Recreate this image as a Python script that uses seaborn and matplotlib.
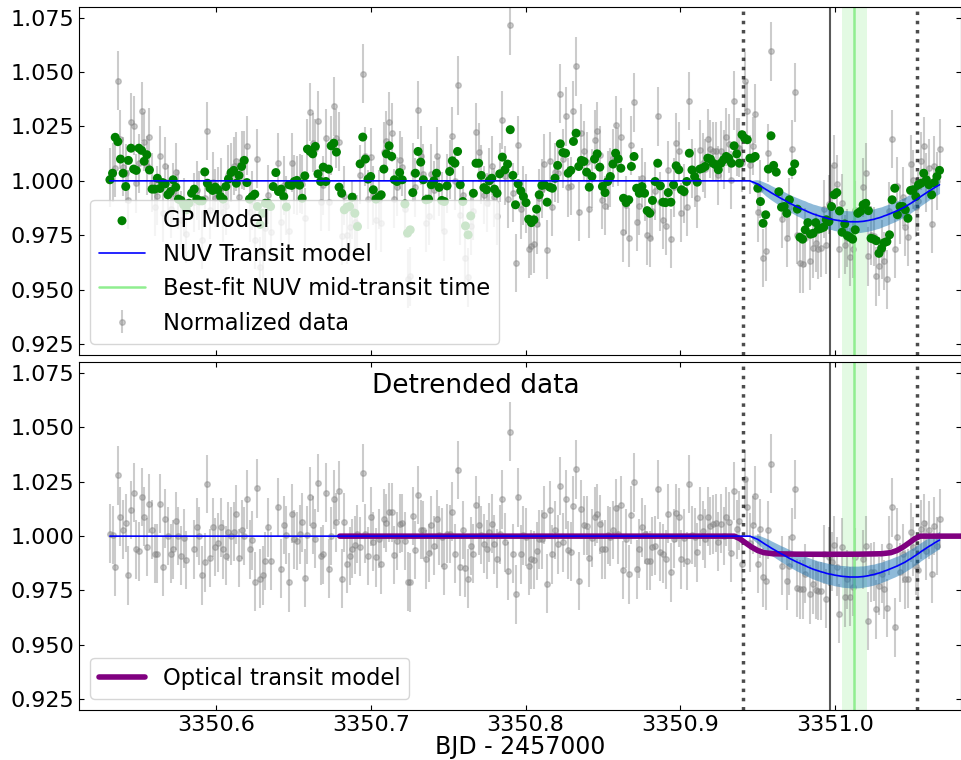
import numpy as np
import matplotlib
matplotlib.use("Agg")
import matplotlib.pyplot as plt
from matplotlib.ticker import MultipleLocator, FormatStrFormatter
import seaborn as sns

# NUV light curve: uniform cadence starting at T_START
T_START = 3350.5315
CADENCE = 0.0017016
FLUX_ERR = 0.0135

# detrended flux (bottom panel), parts per thousand from 1.0 ; None = no exposure
detrended_ppt = [
    1.2, 0.5, -14, 28, 9, 3, 6, -18, 12, 20,
    -6, -7, 18, 9, -5, 15, 3, -8, -8, 15,
    -14, 8, 0, -8, -6, 7, 0, -9, -1, -11,
    None, None, -6, 4, 0, -18, -12, 24, -10, 4,
    -5, -3, 4, -6, -9, 2, 0, 2, 10, -10,
    3, 0,
    17, -6, -2, -21, 22, -19.5, -18, -11.5, 4, -11.5,
    None, None, 13.2, -14.9, 5.1, 0.5, -21.2, 10.4, -1.4, -2.3,
    0.8, 6.4, -19.3, 0.5, 18.1, 5.1, -1.1, 24.5, -9.2, -8.4,
    20, -14.9, 0, 16.9, 6.4, 20.9, -19.6, 6.4, -12.6, -9.2,
    -5.7, -4.1, 1, -4.9, 29.1, 1.2, -9.2, 9, -2.6, -9.8,
    -1.1, -13, 8, 6,
    11, 11, -8.7, -2.3, 5.8, 6, -2.3, -21, -21.3, 9.2,
    -6.4, 19, 3, 2.8, -10.7, -7.7, 5, -4.4, 7.7, 0.4,
    -0.6, -13.6, 1.2, 1, 11.2, -8, 30.4, -14, 2.8, -14.6,
    -19.5, -4.6, -8, 14.3, 5, 0.5, -3.4, -6, 1.7, 5.8,
    -3.8, -10.3, 0.8, 17, -2.8, -16, 48, -8, -26.7, 17.8,
    -8.4, 0.3, -0.4, -13.6, -10.7,
    -11, -6.9, -1.5, -1.5, 9.7, -21.8, 12, -8.4, 2.8, -3.7,
    23, -2.9, 16.9, -6.4, -7.2, 14.1, 30.7, -20.7, 12.4, 5,
    4.8, -10, -0.8, 8.9, 10.4, 5.4, -6, -6, 0.6, -0.3,
    2.8, 13, 0.9, 14.3, -15.6, -1.1, -17.5, 9.7, 24.8, -15.3,
    -5.7, 4, 0.8, -11.3, -11.3, -4.9, -4.4, 21.5, -7.2, -8,
    -10.7, 10.4, -16.7, -1.1, 10.7, 8.6,
    -10.6, -0.8, -11.5, 24, 0.5, -0.5, -7.5, 8.9, 2.5, -1.1,
    8.9, 4.6, 5.4, 6.1, -2.6, 5.8, 0, 8.9, 6.6, -7.7,
    20.7, 3.1, 7.1, -13, 26.2, 13.2, -3, 5.1, 18.6, -12.6,
    3.5, -19, -20.7, 2.8, 33.4, None, None, None, -13.6, None,
    -20.7, -13.6, -0.6, 21.5, -23.8, -24.5, -24.4, -17.2, None, -26.8,
    -22.1, -24.8, -25.2, -25.3, -8.3, -28.7, -9.5, -11.8, -4.1, -14.1,
    -35.6, -5.2, -28.2, -19.8, -27.9, -23.3, -9.8, None, None, -10.6,
    -4.4, -39.1, -16.6, -16.4, -33.7, -23, -17.2, -24.5, -33, -4.4,
    13.2, -42, -0.6, -16.7, -8, -19.8, -19.5, 1.7, -4.9, -13.8,
    -15.6, 3.1, 6.1, -6.7, 2.8, -17.2, 4.6, -4.6, 8.1,
]

# GP model (systematics + transit) at each exposure, ppt from 1.0
gp_ppt = [
    0.5, 3.5, 20, 18, 10, 3.5, -2.6, 9.4, 15, 5.4,
    4.8, 15, 14, 9, 12, 5, -3.8, -3.8, 1.2, -3.5,
    -0.8, -1.4, -6.4, -4.9, 0.5, -2.9, -8.4, -9, -11, -13.3,
    -10.3, -5.7, -3.8, -8.4, -9.2, -9.2, 4.1, -1.1, -3.4, -4.4,
    -2.9, -4.1, -7.2, -8.4, -2.6, 0.8, 3.8, 4.8, -1.1, 2.5,
    6.6, 9.4, -0.8, -8.4, -7.2, -6.1, -11.8, -20, -14.9, -10.3,
    -10.3, -11.8, -2.6, 3.8, -4.9, -3.8, -7.2, -12, -1.8, -2.1,
    -0.3, 0.2, -2, -8, 2.3, 14.6, 13.5, 12.4, 15.8, 3.2,
    -0.3, 6.3, -0.3, 5.4, 16.1, 17.3, 13.2, -2.9, -5.7, -13.3,
    -12.1, -11.8, -7.5, -14.9, -21, 7.8, 20.1, 10, 0.8, 2,
    -4.1, -8.4, -7.5, -6.4, 5.4, 12.4, 16.1, 11.2, 0.5, -0.3,
    3.8, 0.5, -10.6, -24, -22.5, -5.4, 3.5,
    13.5, 8.6, 0.5, -8.7, -8.4, -1.8, 0, 3.5, -3, -9,
    -9.5, -2.3, 4.3, 9.2, 8.1, 13.5, -1.8, -9.5, -20.7, -24.8,
    -16.1, -5.7, 8.1, 8.1, 2.5, -3.1, -4.1, 0, 1.2, -3.8,
    -5.7, 3.2, 10.9, 5.1, 7.7, 23.5, 2.5, -11, -1.4, -4.6,
    -7.2, -10, -17.6, -19.2, -17.9, -13, -6.4, -2.1, -1.8, -9.8,
    -2.9, -3.4, 1.2, 7.1, 17, 13, 12.7, 3.5, 4.8, 18.1,
    21.9, 6.6, 9.4, 8.9, 4, -2.9, 2, 10, 12.4, 6.3,
    -2.6, -5.4, -0.3, 2, 7.7, 12.7, 10.1, 5.8, -8, -10,
    -8.7, 6.6, 11.2, -3.4, -5.7, -2.6, -5.7, -13.7, -14.9, -9,
    -0.3, 8.1, -2.3, -9.8, -10, -5.4, -9.8, -1.8, 6.9, 5.1,
    -4.1, -4.9, -0.3, 12.7, 5, 2, -0.6, 5.4, 5.8, 6.6,
    10.4, 10, 8.1, 7.4, 5.1, 8.1, 9.7, 11.2,
    10.4, 8.1, 16.1, 12.4, 8.1, 21.2, 19.6, 18.9, 10.4, 10.4,
    11.2, -3.4, -9.5, -19.5, -15.6, 5.4, 20.7, 7.1, 4, -5,
    -12.1, -11.8, -14.9, -8.7, 4.3, 7.8, -13, -25.9, -26.8, -22.5,
    -19.2, -24.5, -24.1, -19.2, -22.2, -21.8, -21.3, -17.9, -18.7, -11.8,
    -6.4, -5.4, -13.8, -23.6, -19.8, -25.2, -25.9, -26.8, -22.5, -14.9,
    -14, -11, -10.3, -13.7, -26.4, -26.8, -27.5, -33.3, -31, -28.4,
    -27.9, -24.8, -8.7, -3.4, -15.6, -11.8, -11.8, -13.3, -17.2, -4.4,
    -4.1, -7.2, -1.8, -1.1, 3.5, 0.5, -1.8, -6.4, -0.8, 2,
    4.8,
]

# NUV transit model: flat for the first N_FLAT exposures, then these values (ppt)
N_FLAT = 243
transit_in_ppt = [
    0, -0.5, -1.0, -1.5, -2.3, -3.1, -3.9, -4.6, -5.4, -6.1,
    -6.8, -7.5, -8.2, -8.8, -9.5, -10.2, -10.8, -11.4, -12.0, -12.5,
    -13.1, -13.6, -14.2, -14.7, -15.2, -15.6, -16.0, -16.4, -16.7, -17.1,
    -17.4, -17.6, -17.9, -18.1, -18.3, -18.5, -18.6, -18.7, -18.8, -18.8,
    -18.8, -18.8, -18.7, -18.6, -18.4, -18.2, -17.9, -17.7, -17.3, -17.0,
    -16.6, -16.1, -15.7, -15.2, -14.7, -14.2, -13.7, -13.1, -12.5, -11.9,
    -11.1, -10.4, -9.6, -8.8, -8.0, -7.1, -6.3, -5.5, -4.7, -4.0,
    -3.2, -2.5, -1.8,
]
# half width of the model uncertainty band (ppt), same exposures
band_in_ppt = [
    0, 0.8, 1.5, 2.0, 2.4, 2.7, 3.0, 3.2, 3.3, 3.4,
    3.5, 3.6, 3.7, 3.8, 3.9, 4.0, 4.0, 4.1, 4.2, 4.2,
    4.3, 4.4, 4.4, 4.5, 4.5, 4.6, 4.6, 4.7, 4.7, 4.8,
    4.8, 4.8, 4.9, 4.9, 4.9, 5.0, 5.0, 5.0, 5.0, 5.0,
    5.0, 5.0, 5.0, 4.9, 4.9, 4.9, 4.9, 4.8, 4.8, 4.8,
    4.7, 4.7, 4.7, 4.6, 4.6, 4.6, 4.5, 4.5, 4.5, 4.4,
    4.4, 4.4, 4.3, 4.3, 4.3, 4.2, 4.2, 4.2, 4.1, 4.1,
    4.1, 4.0, 4.0,
]

# optical transit model
optical_time = [3350.680, 3350.935, 3350.9385, 3350.942, 3350.946, 3350.950, 3350.954,
                3350.960, 3350.975, 3350.995, 3351.015, 3351.030, 3351.036, 3351.040,
                3351.044, 3351.048, 3351.0515, 3351.055, 3351.095]
optical_ppt = [0, 0, -1.2, -3.0, -5.0, -6.6, -7.6, -8.1, -8.3, -8.35, -8.3, -8.1,
               -7.6, -6.6, -5.0, -3.0, -1.2, 0, 0]

# reference times
T1_OPT = 3350.9405
T4_OPT = 3351.0532
TMID_OPT = 3350.9968
TMID_NUV = 3351.0125
TMID_NUV_ERR = 0.0082

n = len(detrended_ppt)
time = T_START + CADENCE * np.arange(n)
detr = 1 + np.array(detrended_ppt, dtype=float) / 1000
gp = 1 + np.array(gp_ppt, dtype=float) / 1000
transit = 1 + np.array([0.0] * N_FLAT + transit_in_ppt) / 1000
band = np.array([0.0] * N_FLAT + band_in_ppt) / 1000
normalized = detr + gp - transit
opt_flux = 1 + np.array(optical_ppt) / 1000

sns.set_style("ticks")
plt.rcParams["font.family"] = ["DejaVu Sans"]
plt.rcParams["text.color"] = "k"
plt.rcParams["axes.labelcolor"] = "k"
plt.rcParams["xtick.color"] = "k"
plt.rcParams["ytick.color"] = "k"

fig = plt.figure(figsize=(9.62, 7.6), dpi=100)
ax1 = fig.add_axes([0.0821, 0.5329, 0.9169, 0.4583])
ax2 = fig.add_axes([0.0821, 0.0658, 0.9169, 0.4575])


def mark_times(ax):
    ax.axvspan(TMID_NUV - TMID_NUV_ERR, TMID_NUV + TMID_NUV_ERR, color="lightgreen",
               alpha=0.25, lw=0, zorder=0)
    ax.axvline(TMID_NUV, color="lightgreen", lw=1.8, zorder=1.5,
               label="Best-fit NUV mid-transit time")
    ax.axvline(TMID_OPT, color="k", alpha=0.65, lw=1.5, zorder=1.5)
    for t in (T1_OPT, T4_OPT):
        ax.axvline(t, color="k", alpha=0.7, ls=":", lw=2.5, zorder=1.5)


def model_band(ax):
    s = slice(N_FLAT - 1, None)
    ax.fill_between(time[s], (transit - band)[s], (transit + band)[s],
                    color="tab:blue", alpha=0.5, lw=0, zorder=2)


# top: normalized data + GP
ax1.errorbar(time, normalized, yerr=FLUX_ERR, fmt="o", color="gray", ms=4,
             alpha=0.4, zorder=1, label="Normalized data")
mark_times(ax1)
model_band(ax1)
sns.scatterplot(x=time, y=gp, color="green", s=42, edgecolor="none", ax=ax1,
                zorder=3, label="GP Model")
sns.lineplot(x=time, y=transit, color="blue", lw=1.2, ax=ax1, zorder=4,
             estimator=None, sort=False, label="NUV Transit model")

h, l = ax1.get_legend_handles_labels()
order = ["GP Model", "NUV Transit model", "Best-fit NUV mid-transit time", "Normalized data"]
ax1.legend([h[l.index(k)] for k in order], order, loc="lower left", fontsize=16.3)

# bottom: detrended
ax2.errorbar(time, detr, yerr=FLUX_ERR, fmt="o", color="gray", ms=4, alpha=0.4, zorder=1)
mark_times(ax2)
model_band(ax2)
sns.lineplot(x=optical_time, y=opt_flux, color="purple", lw=4, ax=ax2, zorder=2.5,
             estimator=None, sort=False, label="Optical transit model")
sns.lineplot(x=time, y=transit, color="blue", lw=1.2, ax=ax2, zorder=4,
             estimator=None, sort=False)
h, l = ax2.get_legend_handles_labels()
ax2.legend([h[l.index("Optical transit model")]], ["Optical transit model"],
           loc="lower left", fontsize=16.3)
ax2.text(0.45, 0.932, "Detrended data", transform=ax2.transAxes, ha="center",
         va="center", fontsize=19)

for ax in (ax1, ax2):
    ax.set_xlim(3350.5115, 3351.0814)
    ax.set_ylim(0.92, 1.08)
    ax.xaxis.set_major_locator(MultipleLocator(0.1))
    ax.xaxis.set_major_formatter(FormatStrFormatter("%.1f"))
    ax.yaxis.set_major_locator(MultipleLocator(0.025))
    ax.yaxis.set_major_formatter(FormatStrFormatter("%.3f"))
    ax.tick_params(direction="in", top=True, right=True, labelsize=16, color="k")
    for sp in ax.spines.values():
        sp.set_color("k")
ax1.tick_params(labelbottom=False)
ax2.set_xlabel("BJD - 2457000", fontsize=17, labelpad=0)

fig.savefig("out.png", dpi=100)
